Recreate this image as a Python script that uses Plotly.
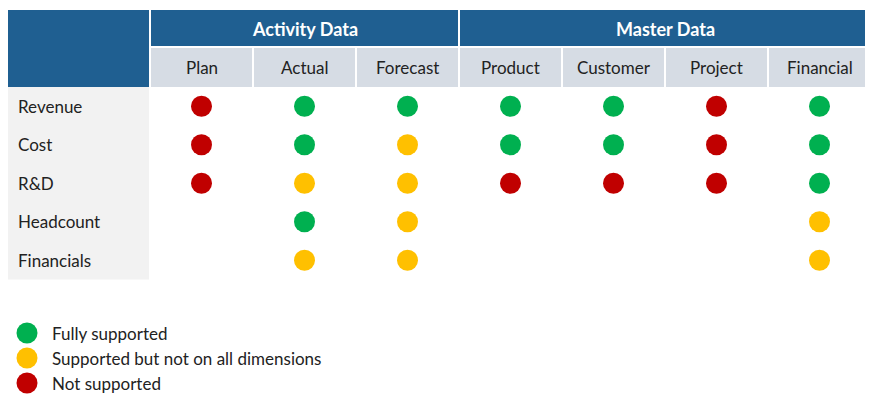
import plotly.graph_objects as go

groups = ["Activity Data", "Master Data"]
group_span = [3, 4]
columns = ["Plan", "Actual", "Forecast", "Product", "Customer", "Project", "Financial"]
rows = ["Revenue", "Cost", "R&D", "Headcount", "Financials"]
# G = fully, Y = partly, R = not supported, "" = none
status = [
    ["R", "G", "G", "G", "G", "R", "G"],
    ["R", "G", "Y", "G", "G", "R", "G"],
    ["R", "Y", "Y", "R", "R", "R", "G"],
    ["", "G", "Y", "", "", "", "Y"],
    ["", "Y", "Y", "", "", "", "Y"],
]
legend_keys = ["G", "Y", "R"]
legend_text = ["Fully supported", "Supported but not on all dimensions", "Not supported"]

colors = {"G": "#00B050", "Y": "#FFC000", "R": "#C00000"}
dark = "#1F5F91"
FONT = "Lato"
off = 8  # page margin of the browser

# table geometry in pixels
x0, lw, cw = 7, 143, 103
y_top, h1, h2, rh = 10, 37, 40, 38.5
cx = [x0 + lw + cw * (i + 0.5) for i in range(len(columns))]
ry = [y_top + h1 + h2 + rh * (j + 0.5) for j in range(len(rows))]

shapes = []
ann = []
# corner block and header
shapes.append(dict(type="rect", x0=x0, x1=x0 + lw - 1, y0=y_top, y1=y_top + h1 + h2,
                   fillcolor=dark, line_width=0, layer="below"))
start = x0 + lw
for g, n in zip(groups, group_span):
    shapes.append(dict(type="rect", x0=start + 1, x1=start + n * cw - 1, y0=y_top, y1=y_top + h1 - 1,
                       fillcolor=dark, line_width=0, layer="below"))
    ann.append(dict(x=start + n * cw / 2, y=y_top + h1 / 2, text="<b>%s</b>" % g, showarrow=False,
                    font=dict(family=FONT, size=18, color="white")))
    start += n * cw
for i, c in enumerate(columns):
    shapes.append(dict(type="rect", x0=cx[i] - cw / 2 + 1, x1=cx[i] + cw / 2 - 1,
                       y0=y_top + h1 + 1, y1=y_top + h1 + h2, fillcolor="#D6DCE4", line_width=0, layer="below"))
    ann.append(dict(x=cx[i], y=y_top + h1 + h2 / 2, text=c, showarrow=False,
                    font=dict(family=FONT, size=17, color="#222")))
shapes.append(dict(type="rect", x0=x0, x1=x0 + lw - 1, y0=y_top + h1 + h2, y1=y_top + h1 + h2 + rh * len(rows),
                   fillcolor="#F2F2F2", line_width=0, layer="below"))
for j, r in enumerate(rows):
    ann.append(dict(x=x0 + 9, y=ry[j], text=r, showarrow=False, xanchor="left",
                    font=dict(family=FONT, size=17, color="#222")))

fig = go.Figure()
for k in legend_keys:
    xs, ys = [], []
    for j in range(len(rows)):
        for i in range(len(columns)):
            if status[j][i] == k:
                xs.append(cx[i])
                ys.append(ry[j])
    fig.add_trace(go.Scatter(x=xs, y=ys, mode="markers", hoverinfo="skip",
                             marker=dict(size=21, color=colors[k], line_width=0)))

# legend
for n, (k, t) in enumerate(zip(legend_keys, legend_text)):
    ly = 333 + 25 * n
    fig.add_trace(go.Scatter(x=[27], y=[ly], mode="markers", hoverinfo="skip",
                             marker=dict(size=21, color=colors[k], line_width=0)))
    ann.append(dict(x=50, y=ly, text=t, showarrow=False, xanchor="left",
                    font=dict(family=FONT, size=17, color="#222")))

fig.update_layout(
    width=873, height=400, margin=dict(l=0, r=0, t=0, b=0),
    plot_bgcolor="white", paper_bgcolor="white", showlegend=False,
    xaxis=dict(range=[off, 873 + off], visible=False, fixedrange=True),
    yaxis=dict(range=[400 + off, off], visible=False, fixedrange=True),
    shapes=shapes, annotations=ann,
)
fig.write_html("out.html")
